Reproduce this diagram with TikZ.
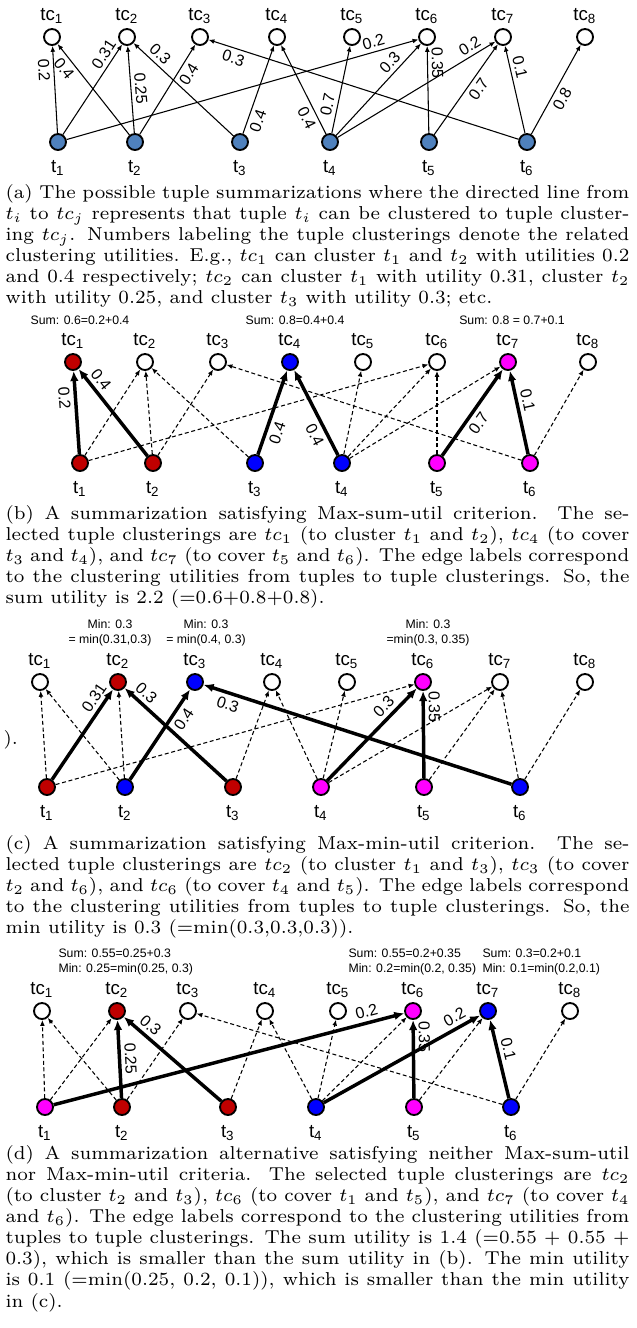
\documentclass[tikz,border=0pt]{standalone}
\usepackage{fontspec}
\newfontfamily\graphfont{Liberation Sans}
\usetikzlibrary{arrows.meta}
\definecolor{tblue}{HTML}{4F81BD}
\definecolor{selred}{HTML}{C00000}
\definecolor{selblue}{HTML}{0000FF}
\definecolor{selmag}{HTML}{FF00FF}

\begin{document}
\begin{tikzpicture}[x=0.375pt, y=-0.375pt,
    nlab/.style={font=\graphfont\fontsize{7}{8}\selectfont, inner sep=0pt},
    clu/.style={circle, draw, line width=0.7pt, minimum size=6pt, inner sep=0pt, fill=white,
        label={[nlab, label distance=1.5pt]above:tc\textsubscript{#1}}},
    tup/.style={circle, draw, line width=0.7pt, minimum size=6pt, inner sep=0pt,
        label={[nlab, label distance=3.5pt]below:t\textsubscript{#1}}},
    elab/.style={font=\graphfont\fontsize{6}{7}\selectfont, sloped, inner sep=1.4pt},
    note/.style={font=\graphfont\fontsize{4.6}{5.8}\selectfont, inner sep=0pt, align=center},
    captext/.style={font=\fontsize{7}{7.9}\selectfont, text width=234pt, align=justify, inner sep=0pt, anchor=north west},
    arr/.style={-{Latex[length=2.2pt,width=1.8pt]}, line width=0.4pt},
    opt/.style={-{Latex[length=2.2pt,width=1.8pt]}, line width=0.4pt, dash pattern=on 1.5pt off 1pt},
    sel/.style={-{Latex[length=3.8pt,width=3.2pt]}, line width=1.3pt}
]
\useasboundingbox (0,0) rectangle (636,1328);

% (a) all possible summarizations
\foreach \x [count=\i] in {52,127,200,277,352,427,503,585}
  \node[clu=\i] (ca\i) at (\x,37) {};
\foreach \x [count=\i] in {58,135,240,330,429,527}
  \node[tup=\i, fill=tblue] (ta\i) at (\x,142) {};

\draw[arr] (ta1) -- node[elab, pos=0.73, below] {0.2} (ca1);
\draw[arr] (ta2) -- node[elab, pos=0.8, below] {0.4} (ca1);
\draw[arr] (ta1) -- node[elab, pos=0.83, above] {0.31} (ca2);
\draw[arr] (ta2) -- node[elab, pos=0.5, above] {0.25} (ca2);
\draw[arr] (ta3) -- node[elab, pos=0.8, above] {0.3} (ca2);
\draw[arr] (ta2) -- node[elab, pos=0.73, below] {0.4} (ca3);
\draw[arr] (ta6) -- node[elab, pos=0.91, below] {0.3} (ca3);
\draw[arr] (ta3) -- node[elab, pos=0.18, below] {0.4} (ca4);
\draw[arr] (ta4) -- node[elab, pos=0.23, below] {0.4} (ca4);
\draw[arr] (ta4) -- node[elab, pos=0.3, above] {0.7} (ca5);
\draw[arr] (ta1) -- node[elab, pos=0.88, above] {0.2} (ca6);
\draw[arr] (ta4) -- node[elab, pos=0.72, above] {0.3} (ca6);
\draw[arr] (ta5) -- node[elab, pos=0.8, above] {0.35} (ca6);
\draw[arr] (ta4) -- node[elab, pos=0.87, above] {0.2} (ca7);
\draw[arr] (ta5) -- node[elab, pos=0.57, below] {0.7} (ca7);
\draw[arr] (ta6) -- node[elab, pos=0.73, above] {0.1} (ca7);
\draw[arr] (ta6) -- node[elab, pos=0.45, below] {0.8} (ca8);

\node[captext] (capa) at (5,184) {(a) The possible tuple summarizations where the directed line from\linebreak
$t_i$ to $tc_j$ represents that tuple $t_i$ can be clustered to tuple cluster-\linebreak
ing $tc_j$. Numbers labeling the tuple clusterings denote the related\linebreak
clustering utilities. E.g., $tc_1$ can cluster $t_1$ and $t_2$ with utilities 0.2\linebreak
and 0.4 respectively; $tc_2$ can cluster $t_1$ with utility 0.31, cluster $t_2$\linebreak
with utility 0.25, and cluster $t_3$ with utility 0.3; etc.};

% (b) Max-sum-util
\node[note] (sumb1) at (80,320) {Sum: 0.6=0.2+0.4};
\node[note] (sumb4) at (295,320) {Sum: 0.8=0.4+0.4};
\node[note] (sumb7) at (512,320) {Sum: 0.8 = 0.7+0.1};
\foreach \x/\c [count=\i] in {73/selred,145/white,218/white,290/selblue,363/white,437/white,508/selmag,588/white}
  \node[clu=\i, fill=\c] (cb\i) at (\x,362) {};
\foreach \x/\c [count=\i] in {80/selred,153/selred,255/selblue,342/selblue,437/selmag,530/selmag}
  \node[tup=\i, fill=\c] (tb\i) at (\x,463) {};

\foreach \s/\d in {1/2,1/6,2/2,2/3,3/2,4/5,4/6,4/7,5/6,6/3,6/8}
  \draw[opt] (tb\s) -- (cb\d);
\draw[sel] (tb1) -- node[elab, pos=0.68, below] {0.2} (cb1);
\draw[sel] (tb2) -- node[elab, pos=0.8, above] {0.4} (cb1);
\draw[sel] (tb3) -- node[elab, pos=0.3, below] {0.4} (cb4);
\draw[sel] (tb4) -- node[elab, pos=0.3, below] {0.4} (cb4);
\draw[sel] (tb5) -- node[elab, pos=0.45, below] {0.7} (cb7);
\draw[sel] (tb6) -- node[elab, pos=0.62, above] {0.1} (cb7);

\node[captext] (capb) at (5,505) {(b) A summarization satisfying Max-sum-util criterion. The se-\linebreak
lected tuple clusterings are $tc_1$ (to cluster $t_1$ and $t_2$), $tc_4$ (to cover\linebreak
$t_3$ and $t_4$), and $tc_7$ (to cover $t_5$ and $t_6$). The edge labels correspond\linebreak
to the clustering utilities from tuples to tuple clusterings. So, the\linebreak
sum utility is 2.2 (=0.6+0.8+0.8).};

% (c) Max-min-util
\node[note] (minc2) at (110,633) {Min: 0.3\\= min(0.31,0.3)};
\node[note] (minc3) at (206,633) {Min: 0.3\\= min(0.4, 0.3)};
\node[note] (minc6) at (428,633) {Min: 0.3\\=min(0.3, 0.35)};
\node[font=\fontsize{7}{7.9}\selectfont, inner sep=0pt, anchor=west] (stray) at (3,740) {).};
\foreach \x/\c [count=\i] in {40/white,118/selred,195/selblue,272/white,347/white,423/selmag,500/white,585/white}
  \node[clu=\i, fill=\c] (cc\i) at (\x,682) {};
\foreach \x/\c [count=\i] in {47/selred,125/selblue,233/selred,321/selmag,424/selmag,520/selblue}
  \node[tup=\i, fill=\c] (tc\i) at (\x,787) {};

\foreach \s/\d in {1/1,1/6,2/1,2/2,3/4,4/4,4/5,4/7,5/7,6/7,6/8}
  \draw[opt] (tc\s) -- (cc\d);
\draw[sel] (tc1) -- node[elab, pos=0.84, above] {0.31} (cc2);
\draw[sel] (tc3) -- node[elab, pos=0.86, above] {0.3} (cc2);
\draw[sel] (tc2) -- node[elab, pos=0.74, below] {0.4} (cc3);
\draw[sel] (tc6) -- node[elab, pos=0.91, below] {0.3} (cc3);
\draw[sel] (tc4) -- node[elab, pos=0.72, above] {0.3} (cc6);
\draw[sel] (tc5) -- node[elab, pos=0.82, above] {0.35} (cc6);

\node[captext] (capc) at (5,835) {(c) A summarization satisfying Max-min-util criterion. The se-\linebreak
lected tuple clusterings are $tc_2$ (to cluster $t_1$ and $t_3$), $tc_3$ (to cover\linebreak
$t_2$ and $t_6$), and $tc_6$ (to cover $t_4$ and $t_5$). The edge labels correspond\linebreak
to the clustering utilities from tuples to tuple clusterings. So, the\linebreak
min utility is 0.3 (=min(0.3,0.3,0.3)).};

% (d) neither criterion
\node[note, align=left, anchor=west] (sumd2) at (58,962) {Sum: 0.55=0.25+0.3\\Min: 0.25=min(0.25, 0.3)};
\node[note, align=left, anchor=west] (sumd6) at (348,962) {Sum: 0.55=0.2+0.35\\Min: 0.2=min(0.2, 0.35)};
\node[note, align=left, anchor=west] (sumd7) at (482,962) {Sum: 0.3=0.2+0.1\\Min: 0.1=min(0.2,0.1)};
\foreach \x/\c [count=\i] in {42/white,117/selred,188/white,265/white,338/white,413/selmag,488/selblue,570/white}
  \node[clu=\i, fill=\c] (cd\i) at (\x,1011) {};
\foreach \x/\c [count=\i] in {45/selmag,122/selred,228/selred,316/selblue,414/selmag,511/selblue}
  \node[tup=\i, fill=\c] (td\i) at (\x,1107) {};

\foreach \s/\d in {1/1,1/2,2/1,2/3,3/4,4/4,4/5,4/6,5/7,6/3,6/8}
  \draw[opt] (td\s) -- (cd\d);
\draw[sel] (td2) -- node[elab, pos=0.5, above] {0.25} (cd2);
\draw[sel] (td3) -- node[elab, pos=0.8, above] {0.3} (cd2);
\draw[sel] (td1) -- node[elab, pos=0.9, above] {0.2} (cd6);
\draw[sel] (td5) -- node[elab, pos=0.78, above] {0.35} (cd6);
\draw[sel] (td4) -- node[elab, pos=0.87, above] {0.2} (cd7);
\draw[sel] (td6) -- node[elab, pos=0.6, above] {0.1} (cd7);

\node[captext] (capd) at (5,1145) {(d) A summarization alternative satisfying neither Max-sum-util\linebreak
nor Max-min-util criteria. The selected tuple clusterings are $tc_2$\linebreak
(to cluster $t_2$ and $t_3$), $tc_6$ (to cover $t_1$ and $t_5$), and $tc_7$ (to cover $t_4$\linebreak
and $t_6$). The edge labels correspond to the clustering utilities from\linebreak
tuples to tuple clusterings. The sum utility is 1.4 (=0.55 + 0.55 +\linebreak
0.3), which is smaller than the sum utility in (b). The min utility\linebreak
is 0.1 (=min(0.25, 0.2, 0.1)), which is smaller than the min utility\linebreak
in (c).};
\end{tikzpicture}
\end{document}
